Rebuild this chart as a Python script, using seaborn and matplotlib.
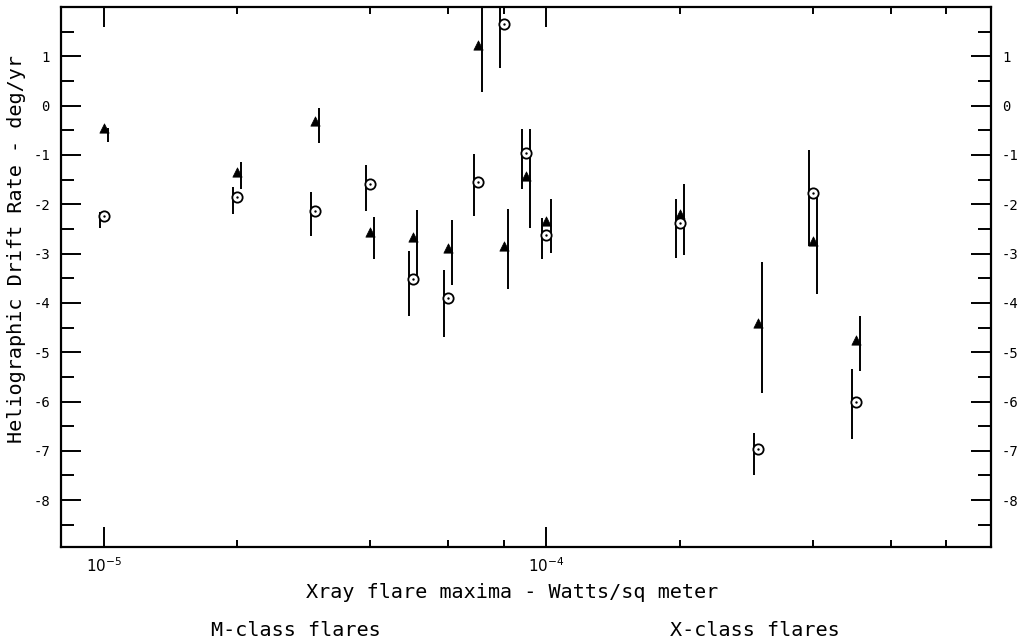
import matplotlib
matplotlib.use('Agg')
import matplotlib.pyplot as plt
import matplotlib.transforms as mtransforms
from matplotlib.ticker import LogLocator, NullFormatter, FixedLocator
import seaborn as sns


# Valeurs
flux = [1e-5, 2e-5, 3e-5, 4e-5, 5e-5, 6e-5, 7e-5, 8e-5, 9e-5,
        1e-4, 2e-4, 3e-4, 4e-4, 5e-4]

# triangles pleins
tri_rate = [-0.45, -1.34, -0.32, -2.56, -2.66, -2.88, 1.22, -2.84, -1.42,
            -2.33, -2.19, -4.40, -2.74, -4.75]
tri_hi = [-0.45, -1.14, -0.04, -2.25, -2.11, -2.31, 2.0, -2.09, -0.47,
          -1.89, -1.58, -3.18, -1.74, -4.26]
tri_lo = [-0.73, -1.70, -0.75, -3.12, -3.59, -3.63, 0.28, -3.71, -2.49,
          -2.98, -3.02, -5.82, -3.81, -5.38]

# cercles pointés
circ_rate = [-2.23, -1.85, -2.13, -1.58, -3.51, -3.91, -1.54, 1.66, -0.97,
             -2.62, -2.39, -6.96, -1.78, -6.00]
circ_hi = [-2.15, -1.66, -1.76, -1.20, -2.94, -3.33, -0.99, 2.0, -0.47,
           -2.27, -1.89, -6.63, -0.89, -5.35]
circ_lo = [-2.49, -2.19, -2.64, -2.13, -4.26, -4.69, -2.23, 0.77, -1.70,
           -3.12, -3.08, -7.48, -2.84, -6.77]

y_major = [-8, -7, -6, -5, -4, -3, -2, -1, 0, 1]
y_minor = [-8.5, -7.5, -6.5, -5.5, -4.5, -3.5, -2.5, -1.5, -0.5, 0.5, 1.5]


sns.set_style('ticks')
plt.rcParams['font.family'] = ['DejaVu Sans Mono', 'DejaVu Sans']
plt.rcParams['mathtext.fontset'] = 'dejavusans'
plt.rcParams['text.color'] = 'black'
plt.rcParams['xtick.color'] = 'black'
plt.rcParams['ytick.color'] = 'black'

fig = plt.figure(figsize=(10.29, 6.41), dpi=100)
ax = fig.add_axes([61 / 1029, 1 - 547 / 641, 930 / 1029, 540 / 641])

# barres verticales décalées de part et d'autre du point
d = 2.9 / 72
right = ax.transData + mtransforms.ScaledTranslation(d, 0, fig.dpi_scale_trans)
left = ax.transData + mtransforms.ScaledTranslation(-d, 0, fig.dpi_scale_trans)
ax.vlines(flux, tri_lo, tri_hi, colors='black', linewidth=1.4, transform=right)
ax.vlines(flux, circ_lo, circ_hi, colors='black', linewidth=1.4, transform=left)

sns.scatterplot(x=flux, y=tri_rate, marker='^', s=45, color='black',
                edgecolor='black', linewidth=0.5, zorder=3, ax=ax)
sns.scatterplot(x=flux, y=circ_rate, marker='o', s=55, color='white',
                edgecolor='black', linewidth=1.3, zorder=3, ax=ax)
sns.scatterplot(x=flux, y=circ_rate, marker='o', s=3, color='black',
                edgecolor='black', linewidth=0, zorder=4, ax=ax)

ax.set_xscale('log')
ax.set_xlim(8e-6, 1.01e-3)
ax.set_ylim(-8.95, 2.0)

ax.set_xticks([1e-5, 1e-4])
ax.set_xticklabels([r'$10^{-5}$', r'$10^{-4}$'])
ax.xaxis.set_minor_locator(LogLocator(base=10, subs=[2, 4, 6, 8]))
ax.xaxis.set_minor_formatter(NullFormatter())
ax.yaxis.set_major_locator(FixedLocator(y_major))
ax.yaxis.set_minor_locator(FixedLocator(y_minor))
ax.set_yticklabels([str(v) for v in y_major])

ax.tick_params(axis='both', which='both', direction='in', top=True,
               right=True, labelright=True, width=1.4, color='black')
ax.tick_params(axis='y', which='major', length=14.5, pad=8, labelsize=10)
ax.tick_params(axis='y', which='minor', length=9.5)
ax.tick_params(axis='x', which='major', length=14.5, pad=7, labelsize=11)
ax.tick_params(axis='x', which='minor', length=5)
for s in ax.spines.values():
    s.set_linewidth(1.6)
    s.set_color('black')

ax.set_xlabel('')
ax.set_ylabel('')
fig.text(512 / 1029, 1 - 592 / 641, 'Xray flare maxima - Watts/sq meter',
         ha='center', va='center', fontsize=14.5)
fig.text(17 / 1029, 1 - 249 / 641, 'Heliographic Drift Rate - deg/yr',
         ha='center', va='center', rotation=90, fontsize=14.5)
fig.text(296 / 1029, 1 - 630 / 641, 'M-class flares',
         ha='center', va='center', fontsize=14.5)
fig.text(755 / 1029, 1 - 630 / 641, 'X-class flares',
         ha='center', va='center', fontsize=14.5)

fig.savefig('out.png', dpi=100, facecolor='white')
